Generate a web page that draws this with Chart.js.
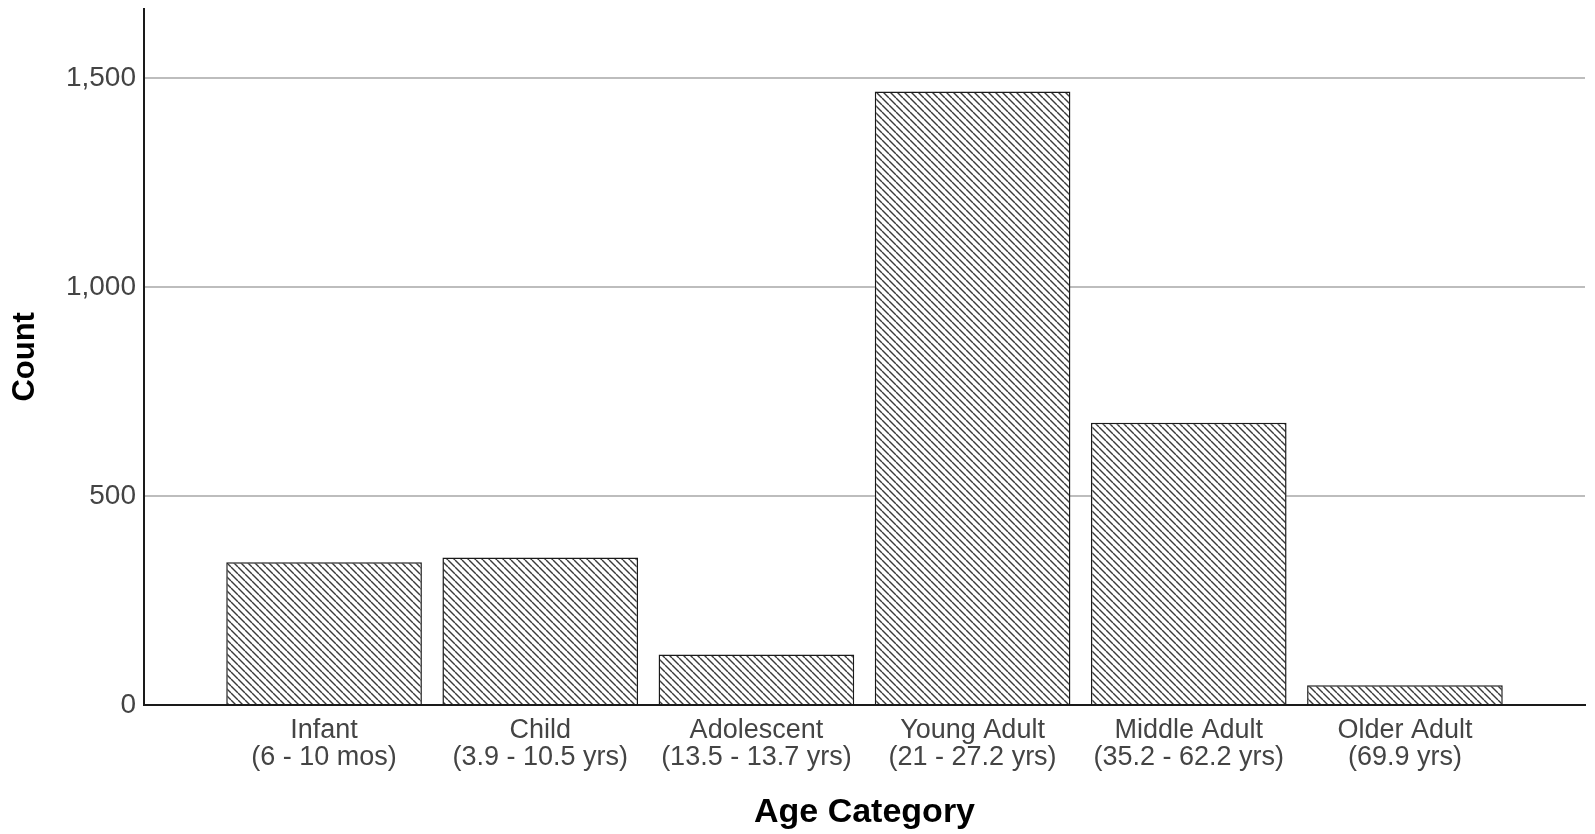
<!DOCTYPE html>
<html>
<head>
<meta charset="utf-8">
<script src="https://cdn.jsdelivr.net/npm/chart.js@4"></script>
<style>
  html, body { margin: 0; padding: 0; background: #ffffff; }
  #wrap { width: 1595px; height: 834px; }
</style>
</head>
<body>
<div id="wrap"><canvas id="c" width="1595" height="834"></canvas></div>
<script>
// ---- data ----
const categories = [
  ["Infant", "(6 - 10 mos)"],
  ["Child", "(3.9 - 10.5 yrs)"],
  ["Adolescent", "(13.5 - 13.7 yrs)"],
  ["Young Adult", "(21 - 27.2 yrs)"],
  ["Middle Adult", "(35.2 - 62.2 yrs)"],
  ["Older Adult", "(69.9 yrs)"]
];
const counts = [342, 353, 121, 1469, 676, 47];
const yTicks = [0, 500, 1000, 1500];
const yMax = 1667;
const xTitle = "Age Category";
const yTitle = "Count";

// ---- hatch pattern ----
function makeHatch() {
  const s = 7;
  const c = document.createElement('canvas');
  c.width = s; c.height = s;
  const g = c.getContext('2d');
  g.fillStyle = '#ffffff';
  g.fillRect(0, 0, s, s);
  g.strokeStyle = '#3a3a3a';
  g.lineWidth = 1.4;
  for (const x0 of [-s, 0, s]) {
    g.beginPath();
    g.moveTo(x0, 0);
    g.lineTo(x0 + s, s);
    g.stroke();
  }
  return g.createPattern(c, 'repeat');
}

const ctx = document.getElementById('c').getContext('2d');
const hatch = makeHatch();
const FAM = '"Liberation Sans", Arial, sans-serif';

new Chart(ctx, {
  type: 'bar',
  data: {
    datasets: [{
      data: counts.map((v, i) => ({ x: i, y: v })),
      backgroundColor: hatch,
      borderColor: '#1a1a1a',
      borderWidth: 1.5,
      barPercentage: 0.905,
      categoryPercentage: 1.0
    }]
  },
  options: {
    responsive: false,
    animation: false,
    devicePixelRatio: 1,
    layout: { padding: { left: 0, top: 8, right: 10, bottom: 0 } },
    plugins: { legend: { display: false }, tooltip: { enabled: false } },
    scales: {
      x: {
        type: 'linear',
        min: -0.833,
        max: categories.length - 1 + 0.833,
        offset: false,
        grid: { display: false, drawTicks: false },
        border: { display: true, color: '#1a1a1a', width: 2 },
        afterBuildTicks: (scale) => { scale.ticks = categories.map((_, i) => ({ value: i })); },
        afterFit: (scale) => { scale.height = 129; },
        ticks: {
          autoSkip: false,
          maxRotation: 0,
          minRotation: 0,
          padding: 12,
          color: '#444444',
          font: { family: FAM, size: 27, lineHeight: 1.0 },
          callback: (v) => categories[v] || ''
        },
        title: {
          display: true,
          text: xTitle,
          color: '#000000',
          font: { family: FAM, size: 34, weight: 'bold', lineHeight: 1.2 },
          padding: { top: 0, bottom: 1 }
        }
      },
      y: {
        min: 0,
        max: yMax,
        afterBuildTicks: (scale) => { scale.ticks = yTicks.map(v => ({ value: v })); },
        afterFit: (scale) => { scale.width = 144; },
        grid: { color: '#bdbdbd', lineWidth: 2, drawTicks: false },
        border: { display: true, color: '#1a1a1a', width: 2 },
        ticks: {
          padding: 8,
          color: '#444444',
          font: { family: FAM, size: 28, lineHeight: 0.05 },
          callback: (v) => v.toLocaleString('en-US')
        },
        title: {
          display: true,
          text: yTitle,
          color: '#000000',
          font: { family: FAM, size: 31, weight: 'bold', lineHeight: 1.2 },
          padding: { top: 7, bottom: 0 }
        }
      }
    }
  }
});
</script>
</body>
</html>
